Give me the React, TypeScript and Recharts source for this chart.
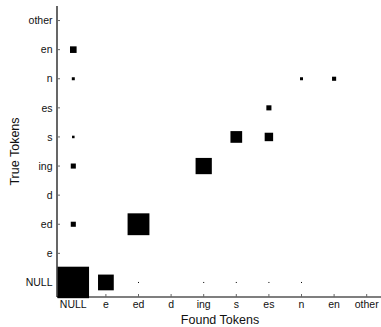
import React from 'react';
import { ScatterChart, Scatter, XAxis, YAxis } from 'recharts';

const tokens = ['NULL', 'e', 'ed', 'd', 'ing', 's', 'es', 'n', 'en', 'other'];
const tickIdx = [0, 1, 2, 3, 4, 5, 6, 7, 8, 9];

// found token index, true token index, weight
const foundIdx = [0, 1, 2, 4, 5, 6, 7, 0, 2, 0, 4, 0, 5, 6, 6, 0, 7, 8, 0];
const trueIdx = [0, 0, 0, 0, 0, 0, 0, 2, 2, 4, 4, 5, 5, 5, 6, 7, 7, 7, 8];
const weights = [1000, 250, 1, 1, 1, 1, 1, 26, 481, 26, 266, 6.5, 138, 72, 26, 9, 9, 17, 44];

const data = foundIdx.map((f, i) => ({ x: f, y: trueIdx[i], w: weights[i] }));

const MAX_SIDE = 31.5;

const Square = (props: any) => {
  const { cx, cy, payload } = props;
  const side = MAX_SIDE * Math.sqrt(payload.w / 1000);
  return <rect x={cx - side / 2} y={cy - side / 2} width={side} height={side} fill="#000" />;
};

const FONT = '"Liberation Sans", Arial, sans-serif';

const YLabel = (props: any) => {
  const vb = props.viewBox || {};
  const cy = (vb.y ?? 6) + (vb.height ?? 291) / 2;
  return (
    <text x={15} y={cy} transform={`rotate(-90, 15, ${cy})`} textAnchor="middle" dominantBaseline="central"
      fontFamily={FONT} fontSize={12.5} fill="#111">True Tokens</text>
  );
};

const XLabel = (props: any) => {
  const vb = props.viewBox || {};
  const cx = (vb.x ?? 57) + (vb.width ?? 326) / 2;
  return (
    <text x={cx} y={324} textAnchor="middle" fontFamily={FONT} fontSize={12.5} fill="#111">Found Tokens</text>
  );
};

export default function App() {
  const tickStyle = { fontFamily: FONT, fontSize: 10.5, fill: '#111' };
  return (
    <div style={{ position: 'absolute', left: 0, top: 0, width: 381, height: 327, overflow: 'hidden', background: '#fff' }}>
      <ScatterChart width={383} height={327} margin={{ top: 6, right: 0, bottom: 0, left: 0 }}>
        <XAxis xAxisId="top" orientation="top" type="number" dataKey="x" domain={[-0.5, 9.5]} height={0}
          tick={false} tickLine={false} axisLine={{ stroke: '#000', strokeWidth: 1.2 }} />
        <XAxis type="number" dataKey="x" domain={[-0.5, 9.5]} ticks={tickIdx} interval={0} height={30}
          tickFormatter={(v: number) => tokens[v]} tick={tickStyle} tickSize={-3} tickMargin={7}
          tickLine={{ stroke: '#666' }} axisLine={{ stroke: '#000', strokeWidth: 1.2 }} label={<XLabel />} />
        <YAxis type="number" dataKey="y" domain={[-0.5, 9.5]} ticks={tickIdx} interval={0} width={57}
          tickFormatter={(v: number) => tokens[v]} tick={tickStyle} tickSize={-3} tickMargin={7.5}
          tickLine={{ stroke: '#666' }} axisLine={{ stroke: '#000', strokeWidth: 1.2 }} label={<YLabel />} />
        <Scatter data={data} shape={<Square />} isAnimationActive={false} />
      </ScatterChart>
    </div>
  );
}
